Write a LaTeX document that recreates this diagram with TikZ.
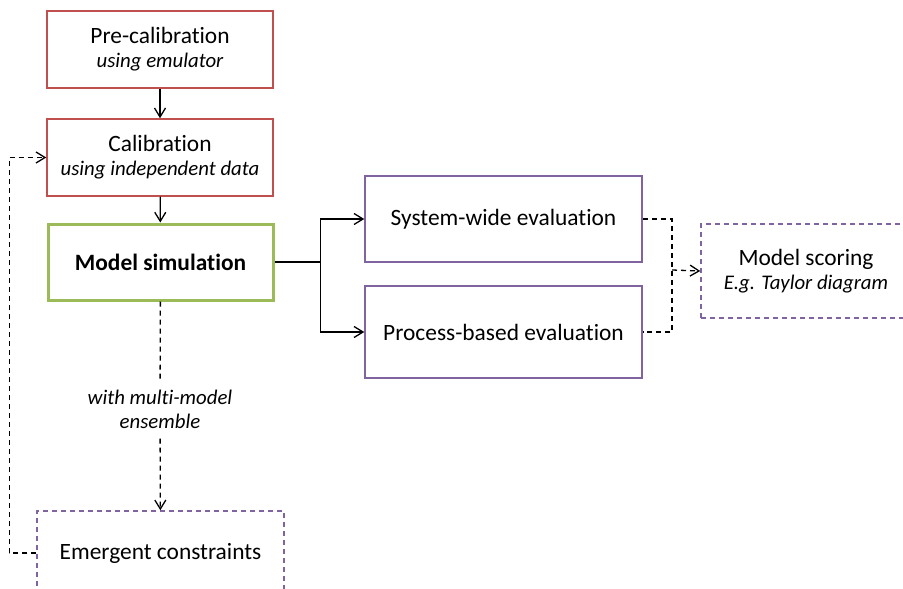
\documentclass[tikz,border=0pt]{standalone}
\usepackage{fontspec}
\setmainfont{Carlito}[Ligatures=NoCommon]
\usetikzlibrary{arrows.meta}
\definecolor{boxred}{HTML}{C0504D}
\definecolor{boxgreen}{HTML}{9BBB59}
\definecolor{boxpurple}{HTML}{8064A2}
\newcommand{\sublabel}[1]{{\fontsize{10.4}{12}\selectfont\itshape #1}}
\tikzset{
  box/.style={draw, line width=.75pt, inner sep=0pt, align=center,
    font=\fontsize{11.7}{12}\selectfont},
  redbox/.style={box, draw=boxred, minimum width=113pt, minimum height=38.5pt},
  greenbox/.style={box, draw=boxgreen, line width=1.5pt, minimum width=112.5pt, minimum height=38pt},
  evalbox/.style={box, draw=boxpurple, minimum width=138.5pt},
  dashbox/.style={box, draw=boxpurple, dash pattern=on 2.5pt off 2pt},
  line/.style={line width=.65pt},
  dashline/.style={line, dash pattern=on 2.5pt off 2pt},
  link/.style={line, -{Straight Barb[length=4.5pt,width=5.5pt]}},
  dashlink/.style={dashline, -{Straight Barb[length=4.5pt,width=5.5pt]}},
}
\begin{document}
\begin{tikzpicture}[x=.5pt,y=-.5pt]  % ------ coordinates in pixels of the original ------
\useasboundingbox (0,0) rectangle (903,588);

    \node[redbox] (Pre) at (160,49.5) {Pre-calibration\\\sublabel{using emulator}};
    \node[redbox] (Cal) at (160,157.5) {Calibration\\\sublabel{using independent data}};
    \node[greenbox] (Sim) at (160.5,262) {\textbf{Model simulation}};
    \node[evalbox, minimum height=43pt] (Sys) at (503.5,219) {System-wide evaluation};
    \node[evalbox, minimum height=46pt] (Proc) at (503.5,332) {Process-based evaluation};
    \node[dashbox, minimum width=105pt, minimum height=47pt] (Score) at (806,271)
        {Model scoring\\\sublabel{E.g. Taylor diagram}};
    \node[align=center, inner sep=5pt] (Ens) at (160,409)
        {\sublabel{with multi-model}\\\sublabel{ensemble}};
    \node[dashbox, minimum width=123.5pt, minimum height=42pt] (Emerg) at (160.5,553)
        {Emergent constraints};
    \coordinate (Merge) at (672,270);

    \draw[link] (Pre) -- (Cal);
    \draw[link] (Cal) -- (Sim);
    \draw[line] (Sim.east) -- ++(46,0) coordinate (Fork);
    \draw[link] (Fork) |- (Sys.west);
    \draw[link] (Fork) |- (Proc.west);
    \draw[dashline] (Sys.east) -| (Merge) |- (Proc.east);  % both evaluations join
    \draw[dashlink] (Merge) -- (Score.west);
    \draw[dashline] (Sim) -- (Ens);
    \draw[dashlink] (Ens) -- (Emerg);
    \draw[dashlink] (Emerg.west) -- ++(-27,0) |- (Cal.west);  % back to calibration
\end{tikzpicture}
\end{document}
